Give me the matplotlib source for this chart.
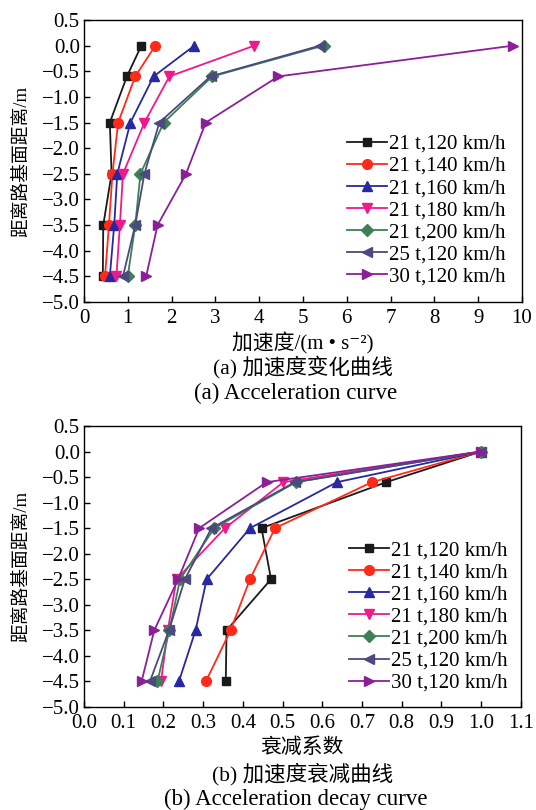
import numpy as np
import matplotlib
matplotlib.use("Agg")
from matplotlib import pyplot as plt

plt.rcParams['font.family'] = ['Liberation Serif', 'Noto Sans CJK SC', 'DejaVu Serif']
plt.rcParams['font.size'] = 15

depth = [0, -0.6, -1.5, -2.5, -3.5, -4.5]
labels = ['21 t,120 km/h', '21 t,140 km/h', '21 t,160 km/h', '21 t,180 km/h',
          '21 t,200 km/h', '25 t,120 km/h', '30 t,120 km/h']

# acceleration (m/s^2) at each depth
acc_21_120 = [1.31, 0.98, 0.59, 0.63, 0.44, 0.43]
acc_21_140 = [1.63, 1.17, 0.78, 0.65, 0.57, 0.48]
acc_21_160 = [2.52, 1.59, 1.06, 0.76, 0.69, 0.59]
acc_21_180 = [3.89, 1.95, 1.38, 0.89, 0.82, 0.74]
acc_21_200 = [5.47, 2.93, 1.82, 1.29, 1.17, 1.00]
acc_25_120 = [5.39, 2.89, 1.72, 1.38, 1.17, 0.89]
acc_30_120 = [9.80, 4.44, 2.78, 2.33, 1.68, 1.42]

# decay coefficient at each depth
dec_21_120 = [1.0, 0.761, 0.447, 0.471, 0.359, 0.357]
dec_21_140 = [1.0, 0.725, 0.481, 0.418, 0.369, 0.307]
dec_21_160 = [1.0, 0.637, 0.418, 0.309, 0.281, 0.239]
dec_21_180 = [1.0, 0.502, 0.355, 0.233, 0.211, 0.194]
dec_21_200 = [1.0, 0.534, 0.328, 0.242, 0.215, 0.185]
dec_25_120 = [1.0, 0.531, 0.321, 0.254, 0.214, 0.166]
dec_30_120 = [1.0, 0.460, 0.290, 0.237, 0.177, 0.145]

acc = [acc_21_120, acc_21_140, acc_21_160, acc_21_180, acc_21_200, acc_25_120, acc_30_120]
dec = [dec_21_120, dec_21_140, dec_21_160, dec_21_180, dec_21_200, dec_25_120, dec_30_120]

colors = ['#1a1a1a', '#ff2a1a', '#2828a0', '#f0198c', '#3f7f55', '#4a4a7e', '#8a1f98']
markers = ['s', 'o', '^', 'v', 'D', '<', '>']
msizes = [6, 7, 7, 7, 6, 7, 7]

fig = plt.figure(figsize=(5.36, 8.10), dpi=100)
ax1 = fig.add_axes([0.1567, 0.6272, 0.817, 0.3481])
ax2 = fig.add_axes([0.1567, 0.1272, 0.815, 0.3469])


def draw(ax, series, xlim, xticks, xfmt, leg_anchor, xpad):
    for y, c, m, ms, lab in zip(series, colors, markers, msizes, labels):
        ax.plot(y, depth, '-', color=c, marker=m, ms=ms, lw=1.3, label=lab)
    ax.set_xlim(*xlim)
    ax.set_ylim(-5.0, 0.5)
    ax.set_xticks(xticks)
    ax.set_xticklabels([xfmt % v for v in xticks])
    yt = np.arange(-5.0, 0.51, 0.5)
    ax.set_yticks(yt)
    ax.set_yticklabels(['%.1f' % v if v >= 0 else '\u2212%.1f' % -v for v in yt])
    ax.tick_params(direction='in', length=4, width=1)
    ax.tick_params(axis='x', pad=xpad)
    ax.tick_params(axis='y', pad=3)
    for s in ax.spines.values():
        s.set_linewidth(1.0)
    ax.set_ylabel('距离路基面距离/m', fontsize=13.5, labelpad=8)
    ax.legend(loc='lower right', bbox_to_anchor=leg_anchor, frameon=False,
              fontsize=15, handlelength=1.9, handletextpad=0.1, labelspacing=0.12,
              borderaxespad=0, borderpad=0)


draw(ax1, acc, (0, 10), np.arange(0, 11, 1), '%d', (0.963, 0.055), 5)
draw(ax2, dec, (0, 1.1), np.round(np.arange(0, 1.11, 0.1), 1), '%.1f', (0.97, 0.05), 5)

ax1.set_xlabel('加速度/(m • s\u207b\u00b2)', labelpad=3)
ax2.set_xlabel('衰减系数', labelpad=4)

fig.text(0.565, 1 - 367 / 810, '(a) 加速度变化曲线', ha='center', va='center', fontsize=15.5)
fig.text(0.552, 1 - 393 / 810, '(a) Acceleration curve', ha='center', va='center', fontsize=16.5)
fig.text(0.565, 1 - 774 / 810, '(b) 加速度衰减曲线', ha='center', va='center', fontsize=15.5)
fig.text(0.552, 1 - 799 / 810, '(b) Acceleration decay curve', ha='center', va='center', fontsize=16.5)

fig.savefig('out.png', dpi=100)
